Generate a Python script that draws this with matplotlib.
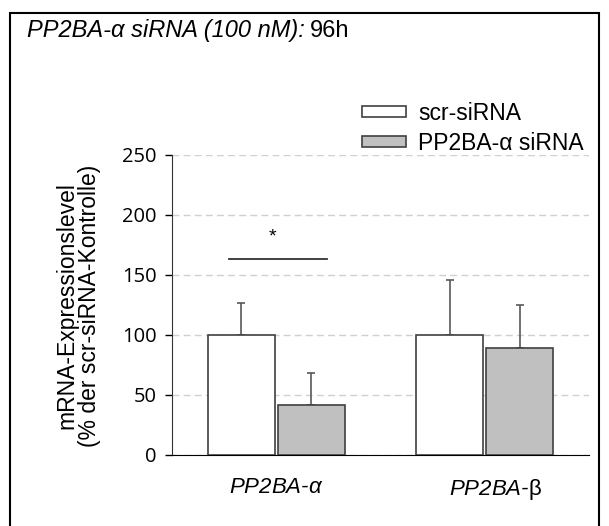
import matplotlib.pyplot as plt
from matplotlib.patches import Rectangle

plt.rcParams['mathtext.fontset'] = 'custom'
plt.rcParams['mathtext.it'] = 'Liberation Sans:italic'
plt.rcParams['mathtext.rm'] = 'Liberation Sans:italic'
plt.rcParams['mathtext.sf'] = 'Liberation Sans'

genes = [r'$PP2BA$-$α$', r'$PP2BA$-$\mathsf{β}$']
scr_mean = [100, 100]
scr_err = [27, 46]
sirna_mean = [42, 89]
sirna_err = [26, 36]
yticks = [0, 50, 100, 150, 200, 250]

W, H = 609, 526
fig = plt.figure(figsize=(W / 100, H / 100), dpi=100)
ax = fig.add_axes([172 / W, 1 - 455 / H, 417 / W, 300 / H])

x = [0, 1]
w = 0.32
off = 0.168
ax.bar([i - off for i in x], scr_mean, w, color='white', edgecolor='#404040',
       linewidth=1.2, label='scr-siRNA', zorder=3)
ax.bar([i + off for i in x], sirna_mean, w, color='#c0c0c0', edgecolor='#404040',
       linewidth=1.2, label='PP2BA-α siRNA', zorder=3)
ax.errorbar([i - off for i in x], scr_mean, yerr=[[0, 0], scr_err], fmt='none',
            ecolor='#595959', elinewidth=1.2, capsize=2.7, capthick=1.2, zorder=2)
ax.errorbar([i + off for i in x], sirna_mean, yerr=[[0, 0], sirna_err], fmt='none',
            ecolor='#595959', elinewidth=1.2, capsize=2.7, capthick=1.2, zorder=2)

# significance bar
ax.plot([-0.228, 0.242], [163, 163], color='#333333', lw=1.3)
ax.text(-0.017, 182, '*', ha='center', va='center', fontsize=14, family='Liberation Sans')

ax.set_xlim(-0.5, 1.5)
ax.set_ylim(0, 250)
ax.set_yticks(yticks)
ax.set_yticklabels([str(t) for t in yticks], fontsize=14.5, family='Open Sans')
ax.yaxis.grid(True, linestyle=(0, (5, 3)), color='#d0d0d0', lw=1)
ax.set_axisbelow(True)
ax.tick_params(axis='y', length=5, width=1, pad=6)
ax.set_xticks([0, 1.05])
ax.set_xticklabels(genes, fontsize=16, family='Liberation Sans', style='italic')
ax.tick_params(axis='x', length=0, pad=16)
for s in ['top', 'right']:
    ax.spines[s].set_visible(False)
ax.spines['left'].set_color('#333333')
ax.spines['bottom'].set_color('black')

fig.text(78 / W, 1 - 306 / H, 'mRNA-Expressionslevel\n(% der scr-siRNA-Kontrolle)',
         fontsize=16.5, family='Liberation Sans', rotation=90, ha='center',
         va='center', multialignment='center', linespacing=0.95)

ax.legend(loc='upper left', bbox_to_anchor=(362 / W, 1 - 102 / H),
          bbox_transform=fig.transFigure, frameon=False,
          prop={'family': 'Liberation Sans', 'size': 16.5},
          handlelength=1.9, handleheight=0.35, handletextpad=0.55,
          labelspacing=0.3, borderaxespad=0, borderpad=0)

t1 = fig.text(27 / W, 1 - 31 / H, 'PP2BA-α siRNA (100 nM):', fontsize=17,
              family='Liberation Sans', style='italic', va='center')
fig.canvas.draw()
bb = t1.get_window_extent()
fig.text((bb.x1 + 5) / W, 1 - 31 / H, '96h', fontsize=17,
         family='Liberation Sans', va='center')

fig.patches.append(Rectangle((10 / W, -0.05), 589 / W, 1.05 - 13 / H,
                             transform=fig.transFigure, fill=False,
                             edgecolor='black', lw=1.5))

fig.savefig('out.png', dpi=100)
